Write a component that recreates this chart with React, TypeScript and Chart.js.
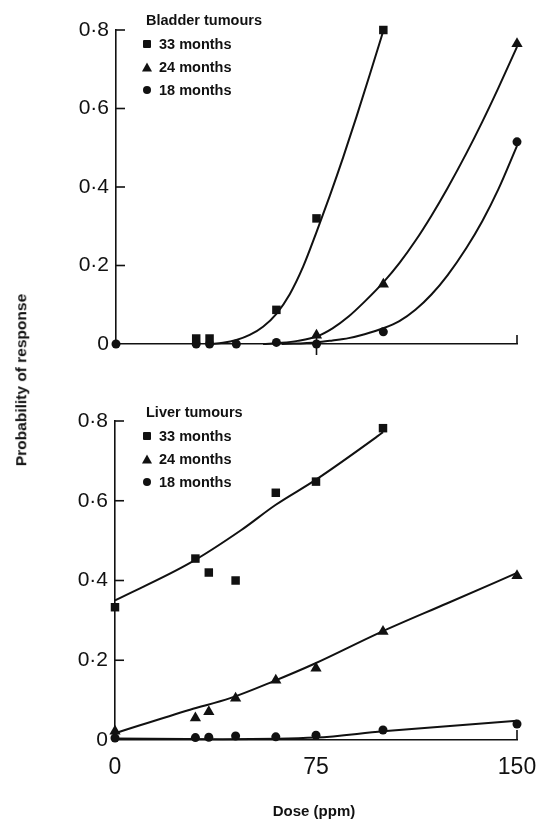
import React, { useEffect, useRef } from "react";
import { Chart, registerables } from "chart.js";

Chart.register(...registerables);

// ---------- data ----------
const xTicks = [0, 75, 150];
const yTicks = [0, 0.2, 0.4, 0.6, 0.8];
const seriesLabels = ["33 months", "24 months", "18 months"];
const panelTitles = ["Bladder tumours", "Liver tumours"];
const yAxisTitle = "Probability of response";
const xAxisTitle = "Dose (ppm)";

// Bladder tumours – observed
const bladder33Dose = [30, 35, 60, 75, 100];
const bladder33 = [0.014, 0.014, 0.087, 0.32, 0.8];
const bladder24Dose = [75, 100, 150];
const bladder24 = [0.022, 0.152, 0.765];
const bladder18Dose = [0, 30, 35, 45, 60, 75, 100, 150];
const bladder18 = [0, 0, 0, 0, 0.004, 0, 0.031, 0.515];

// Bladder tumours – fitted curves
const bladder33FitDose = [35, 40, 45, 50, 55, 60, 65, 70, 75, 80, 85, 90, 95, 100];
const bladder33Fit = [0, 0.003, 0.01, 0.023, 0.044, 0.077, 0.127, 0.197, 0.285, 0.378, 0.476, 0.58, 0.688, 0.798];
const bladder24FitDose = [55, 62, 68, 75, 81, 87, 93, 100, 106, 112, 118, 124, 131, 137, 143, 150];
const bladder24Fit = [0, 0.003, 0.008, 0.019, 0.04, 0.07, 0.108, 0.157, 0.206, 0.263, 0.327, 0.397, 0.485, 0.566, 0.652, 0.757];
const bladder18FitDose = [62, 75, 81, 87, 93, 100, 106, 112, 118, 124, 131, 137, 143, 150];
const bladder18Fit = [0, 0.004, 0.009, 0.015, 0.025, 0.04, 0.058, 0.087, 0.126, 0.175, 0.244, 0.313, 0.394, 0.505];

// Liver tumours – observed
const liver33Dose = [0, 30, 35, 45, 60, 75, 100];
const liver33 = [0.333, 0.455, 0.42, 0.4, 0.62, 0.648, 0.782];
const liver24Dose = [0, 30, 35, 45, 60, 75, 100, 150];
const liver24 = [0.022, 0.055, 0.071, 0.105, 0.15, 0.18, 0.272, 0.412];
const liver18Dose = [0, 30, 35, 45, 60, 75, 100, 150];
const liver18 = [0.005, 0.006, 0.007, 0.01, 0.008, 0.012, 0.025, 0.04];

// Liver tumours – fitted lines
const liver33FitDose = [0, 28, 47, 60, 75, 98, 100];
const liver33Fit = [0.35, 0.444, 0.526, 0.59, 0.653, 0.762, 0.772];
const liver24FitDose = [0, 28, 43, 59, 74, 99, 124, 150];
const liver24Fit = [0.017, 0.076, 0.105, 0.147, 0.19, 0.27, 0.343, 0.419];
const liver18FitDose = [0, 40, 75, 100, 150];
const liver18Fit = [0.004, 0.002, 0.006, 0.022, 0.048];

// ---------- helpers ----------
const INK = "#111";
const pts = (xs: number[], ys: number[]) => xs.map((x, i) => ({ x, y: ys[i] }));

const pointSet = (label: string, xs: number[], ys: number[], style: string, r: number) => ({
  label,
  data: pts(xs, ys),
  pointStyle: style,
  pointRadius: r,
  pointHoverRadius: r,
  backgroundColor: INK,
  borderColor: INK,
  borderWidth: 0,
  showLine: false,
  clip: false as any,
});

const fitSet = (label: string, xs: number[], ys: number[]) => ({
  label,
  data: pts(xs, ys),
  showLine: true,
  pointRadius: 0,
  borderColor: INK,
  borderWidth: 2,
  cubicInterpolationMode: "monotone",
  fill: false,
  clip: false as any,
});

const axisMarks = {
  id: "axisMarks",
  afterDatasetsDraw(chart: any, _args: any, opts: any) {
    const { ctx } = chart;
    const xs = chart.scales.x;
    const ys = chart.scales.y;
    ctx.save();
    ctx.strokeStyle = INK;
    ctx.lineWidth = 1.6;
    const left = xs.getPixelForValue(0);
    yTicks.forEach((v) => {
      if (v === 0) return;
      const py = ys.getPixelForValue(v);
      ctx.beginPath();
      ctx.moveTo(left, py);
      ctx.lineTo(left + 9, py);
      ctx.stroke();
    });
    const base = ys.getPixelForValue(0);
    (opts.xMarks || []).forEach((m: any) => {
      const px = xs.getPixelForValue(m.value);
      ctx.beginPath();
      ctx.moveTo(px, base - m.up);
      ctx.lineTo(px, base + m.down);
      ctx.stroke();
    });
    ctx.restore();
  },
};

const fmtY = (v: number) => (v === 0 ? "0" : v.toFixed(1).replace(".", "·"));

function makeOptions(opts: {
  yWidth: number;
  xHeight: number;
  padTop: number;
  padRight: number;
  showX: boolean;
  xMarks: any[];
}) {
  return {
    responsive: false,
    animation: false,
    devicePixelRatio: 1,
    layout: { padding: { left: 0, right: opts.padRight, top: opts.padTop, bottom: 0 } },
    plugins: {
      legend: { display: false },
      tooltip: { enabled: false },
      axisMarks: { xMarks: opts.xMarks },
    },
    scales: {
      x: {
        type: "linear",
        min: 0,
        max: 150,
        afterBuildTicks: (s: any) => {
          s.ticks = xTicks.map((v) => ({ value: v }));
        },
        afterFit: (s: any) => {
          s.height = opts.xHeight;
          s.paddingLeft = 0;
          s.paddingRight = 0;
        },
        grid: { display: false, drawTicks: false },
        border: { display: true, color: INK, width: 1.6 },
        ticks: {
          display: opts.showX,
          color: INK,
          padding: 14,
          font: { family: "'Liberation Sans', Arial, sans-serif", size: 23 },
          callback: (v: any) => String(v),
          maxRotation: 0,
        },
      },
      y: {
        type: "linear",
        min: 0,
        max: 0.8,
        afterBuildTicks: (s: any) => {
          s.ticks = yTicks.map((v) => ({ value: v }));
        },
        afterFit: (s: any) => {
          s.width = opts.yWidth;
          s.paddingTop = 0;
          s.paddingBottom = 0;
        },
        grid: { display: false, drawTicks: false },
        border: { display: true, color: INK, width: 1.6 },
        ticks: {
          color: INK,
          padding: 7,
          font: { family: "'Liberation Sans', Arial, sans-serif", size: 21 },
          callback: (v: any) => fmtY(Number(v)),
        },
      },
    },
  } as any;
}

function Panel(props: { top: number; height: number; datasets: any[]; options: any }) {
  const ref = useRef<HTMLCanvasElement | null>(null);
  useEffect(() => {
    if (!ref.current) return;
    const chart = new Chart(ref.current, {
      type: "scatter",
      data: { datasets: props.datasets },
      options: props.options,
      plugins: [axisMarks as any],
    });
    return () => chart.destroy();
  }, []);
  return (
    <canvas
      ref={ref}
      width={540}
      height={props.height}
      style={{ position: "absolute", left: 0, top: props.top, width: 540, height: props.height }}
    />
  );
}

const labelFont: React.CSSProperties = {
  fontFamily: "'Liberation Sans', Arial, sans-serif",
  fontWeight: 700,
  fontSize: 14.5,
  color: INK,
  whiteSpace: "nowrap",
  lineHeight: "1",
};

function Marker({ kind }: { kind: string }) {
  if (kind === "rect")
    return <span style={{ display: "inline-block", width: 8, height: 8, background: INK, borderRadius: 1 }} />;
  if (kind === "triangle")
    return (
      <span
        style={{
          display: "inline-block",
          width: 0,
          height: 0,
          borderLeft: "5px solid transparent",
          borderRight: "5px solid transparent",
          borderBottom: `9px solid ${INK}`,
        }}
      />
    );
  return <span style={{ display: "inline-block", width: 8, height: 8, background: INK, borderRadius: "50%" }} />;
}

const markerKinds = ["rect", "triangle", "circle"];

function Legend({ title, top }: { title: string; top: number }) {
  const rows = [top + 24, top + 47, top + 70];
  return (
    <>
      <div
        style={{ ...labelFont, position: "absolute", left: 146, top: top, transform: "translateY(-50%)" }}
      >
        {title}
      </div>
      {seriesLabels.map((s, i) => (
        <React.Fragment key={s}>
          <div
            style={{
              position: "absolute",
              left: 147,
              top: rows[i],
              transform: "translate(-50%, -50%)",
              lineHeight: 0,
            }}
          >
            <Marker kind={markerKinds[i]} />
          </div>
          <div
            style={{ ...labelFont, position: "absolute", left: 159, top: rows[i], transform: "translateY(-50%)" }}
          >
            {s}
          </div>
        </React.Fragment>
      ))}
    </>
  );
}

export default function App() {
  const bladderSets = [
    pointSet(seriesLabels[0], bladder33Dose, bladder33, "rect", 6),
    pointSet(seriesLabels[1], bladder24Dose, bladder24, "triangle", 6.5),
    pointSet(seriesLabels[2], bladder18Dose, bladder18, "circle", 4.5),
    fitSet("fit 33", bladder33FitDose, bladder33Fit),
    fitSet("fit 24", bladder24FitDose, bladder24Fit),
    fitSet("fit 18", bladder18FitDose, bladder18Fit),
  ];
  const liverSets = [
    pointSet(seriesLabels[0], liver33Dose, liver33, "rect", 6),
    pointSet(seriesLabels[1], liver24Dose, liver24, "triangle", 6.5),
    pointSet(seriesLabels[2], liver18Dose, liver18, "circle", 4.5),
    fitSet("fit 33", liver33FitDose, liver33Fit),
    fitSet("fit 24", liver24FitDose, liver24Fit),
    fitSet("fit 18", liver18FitDose, liver18Fit),
  ];

  const topOptions = makeOptions({
    yWidth: 116,
    xHeight: 390 - 344,
    padTop: 30,
    padRight: 23,
    showX: false,
    xMarks: [
      { value: 75, up: 6, down: 11 },
      { value: 150, up: 9, down: 0 },
    ],
  });
  const bottomOptions = makeOptions({
    yWidth: 115,
    xHeight: 433 - 350,
    padTop: 31,
    padRight: 23,
    showX: true,
    xMarks: [{ value: 150, up: 10, down: 0 }],
  });

  return (
    <div
      style={{
        position: "fixed",
        left: 0,
        top: 0,
        width: 540,
        height: 823,
        background: "#fff",
        overflow: "hidden",
      }}
    >
      <Panel top={0} height={390} datasets={bladderSets} options={topOptions} />
      <Panel top={390} height={433} datasets={liverSets} options={bottomOptions} />
      <Legend title={panelTitles[0]} top={20} />
      <Legend title={panelTitles[1]} top={412} />
      <div
        style={{
          ...labelFont,
          fontSize: 15.5,
          position: "absolute",
          left: 21,
          top: 380,
          transform: "translate(-50%, -50%) rotate(-90deg)",
        }}
      >
        {yAxisTitle}
      </div>
      <div
        style={{
          ...labelFont,
          fontSize: 15,
          position: "absolute",
          left: 314,
          top: 810,
          transform: "translate(-50%, -50%)",
        }}
      >
        {xAxisTitle}
      </div>
    </div>
  );
}
